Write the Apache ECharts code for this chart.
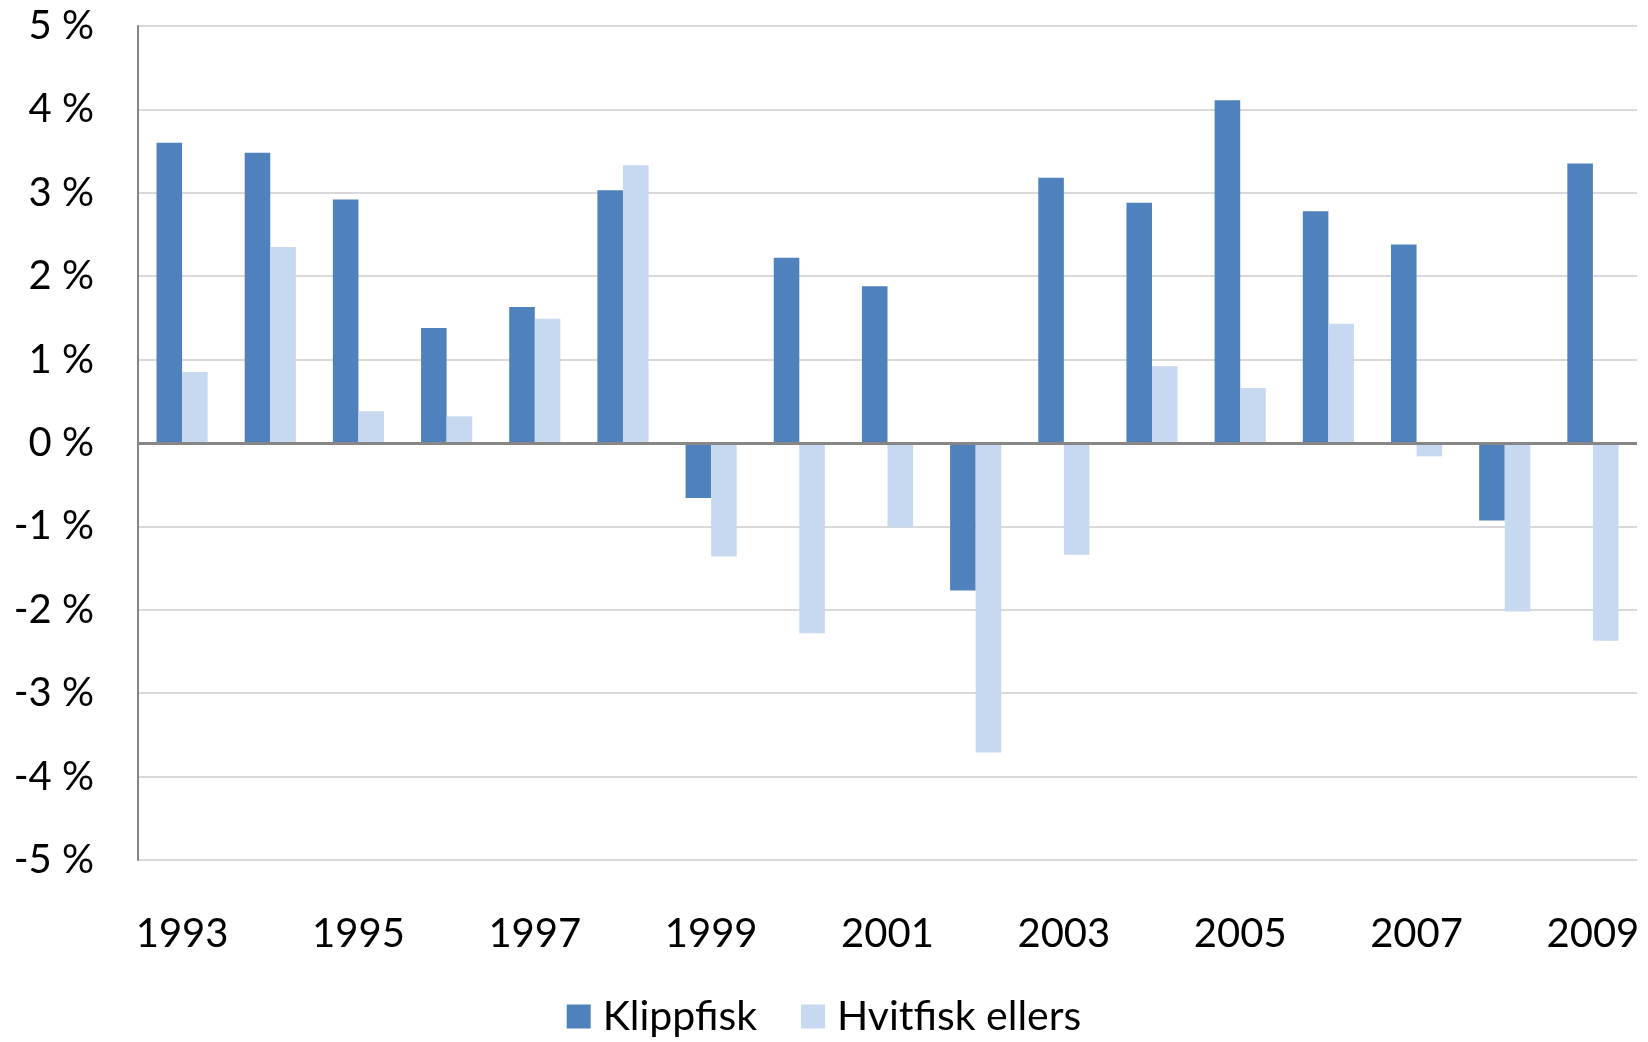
<!DOCTYPE html>
<html>
<head>
<meta charset="utf-8">
<script src="https://cdn.jsdelivr.net/npm/echarts@6/dist/echarts.min.js"></script>
<style>
  html, body { margin: 0; padding: 0; background: #fff; }
  #chart { width: 1648px; height: 1042px; }
</style>
</head>
<body>
<div id="chart"></div>
<script>
// år
var years = ['1993', '1994', '1995', '1996', '1997', '1998', '1999', '2000', '2001',
  '2002', '2003', '2004', '2005', '2006', '2007', '2008', '2009'];
// prosent endring
var klippfisk = [3.60, 3.48, 2.92, 1.38, 1.63, 3.03, -0.66, 2.22, 1.88,
  -1.77, 3.18, 2.88, 4.11, 2.78, 2.38, -0.93, 3.35];
var hvitfisk = [0.85, 2.35, 0.38, 0.32, 1.49, 3.33, -1.36, -2.28, -1.01,
  -3.71, -1.34, 0.92, 0.66, 1.43, -0.16, -2.02, -2.37];
var yTicks = [-5, -4, -3, -2, -1, 0, 1, 2, 3, 4, 5];

var myChart = echarts.init(document.getElementById('chart'));
var txt = { fontFamily: 'Lato', fontSize: 40, color: '#000' };

var option = {
  animation: false,
  backgroundColor: '#fff',
  grid: { left: 138, right: 11, top: 26, bottom: 182 },
  legend: {
    bottom: 0,
    left: 'center',
    itemWidth: 24,
    itemHeight: 24,
    itemGap: 44,
    icon: 'rect',
    textStyle: { fontFamily: 'Lato', fontSize: 41, color: '#000', padding: [0, 0, 0, 7] },
    data: ['Klippfisk', 'Hvitfisk ellers']
  },
  xAxis: {
    type: 'category',
    data: years,
    axisLine: { show: false, onZero: false },
    axisTick: { show: false },
    axisLabel: Object.assign({ interval: 1, margin: 54 }, txt)
  },
  yAxis: {
    type: 'value',
    min: yTicks[0],
    max: yTicks[yTicks.length - 1],
    interval: 1,
    axisLine: { show: true, lineStyle: { color: '#868686', width: 2 } },
    axisTick: { show: false },
    splitLine: { lineStyle: { color: '#d9d9d9', width: 2 } },
    axisLabel: Object.assign({ margin: 44, formatter: '{value} %' }, txt)
  },
  series: [
    {
      name: 'Klippfisk',
      type: 'bar',
      data: klippfisk,
      barGap: '0%',
      barCategoryGap: '42%',
      itemStyle: { color: '#4f81bd' },
      markLine: {
        silent: true,
        symbol: 'none',
        label: { show: false },
        lineStyle: { color: '#868686', width: 3, type: 'solid' },
        data: [{ yAxis: 0 }]
      }
    },
    {
      name: 'Hvitfisk ellers',
      type: 'bar',
      data: hvitfisk,
      itemStyle: { color: '#c6d9f0' }
    }
  ]
};

myChart.setOption(option);
</script>
</body>
</html>
